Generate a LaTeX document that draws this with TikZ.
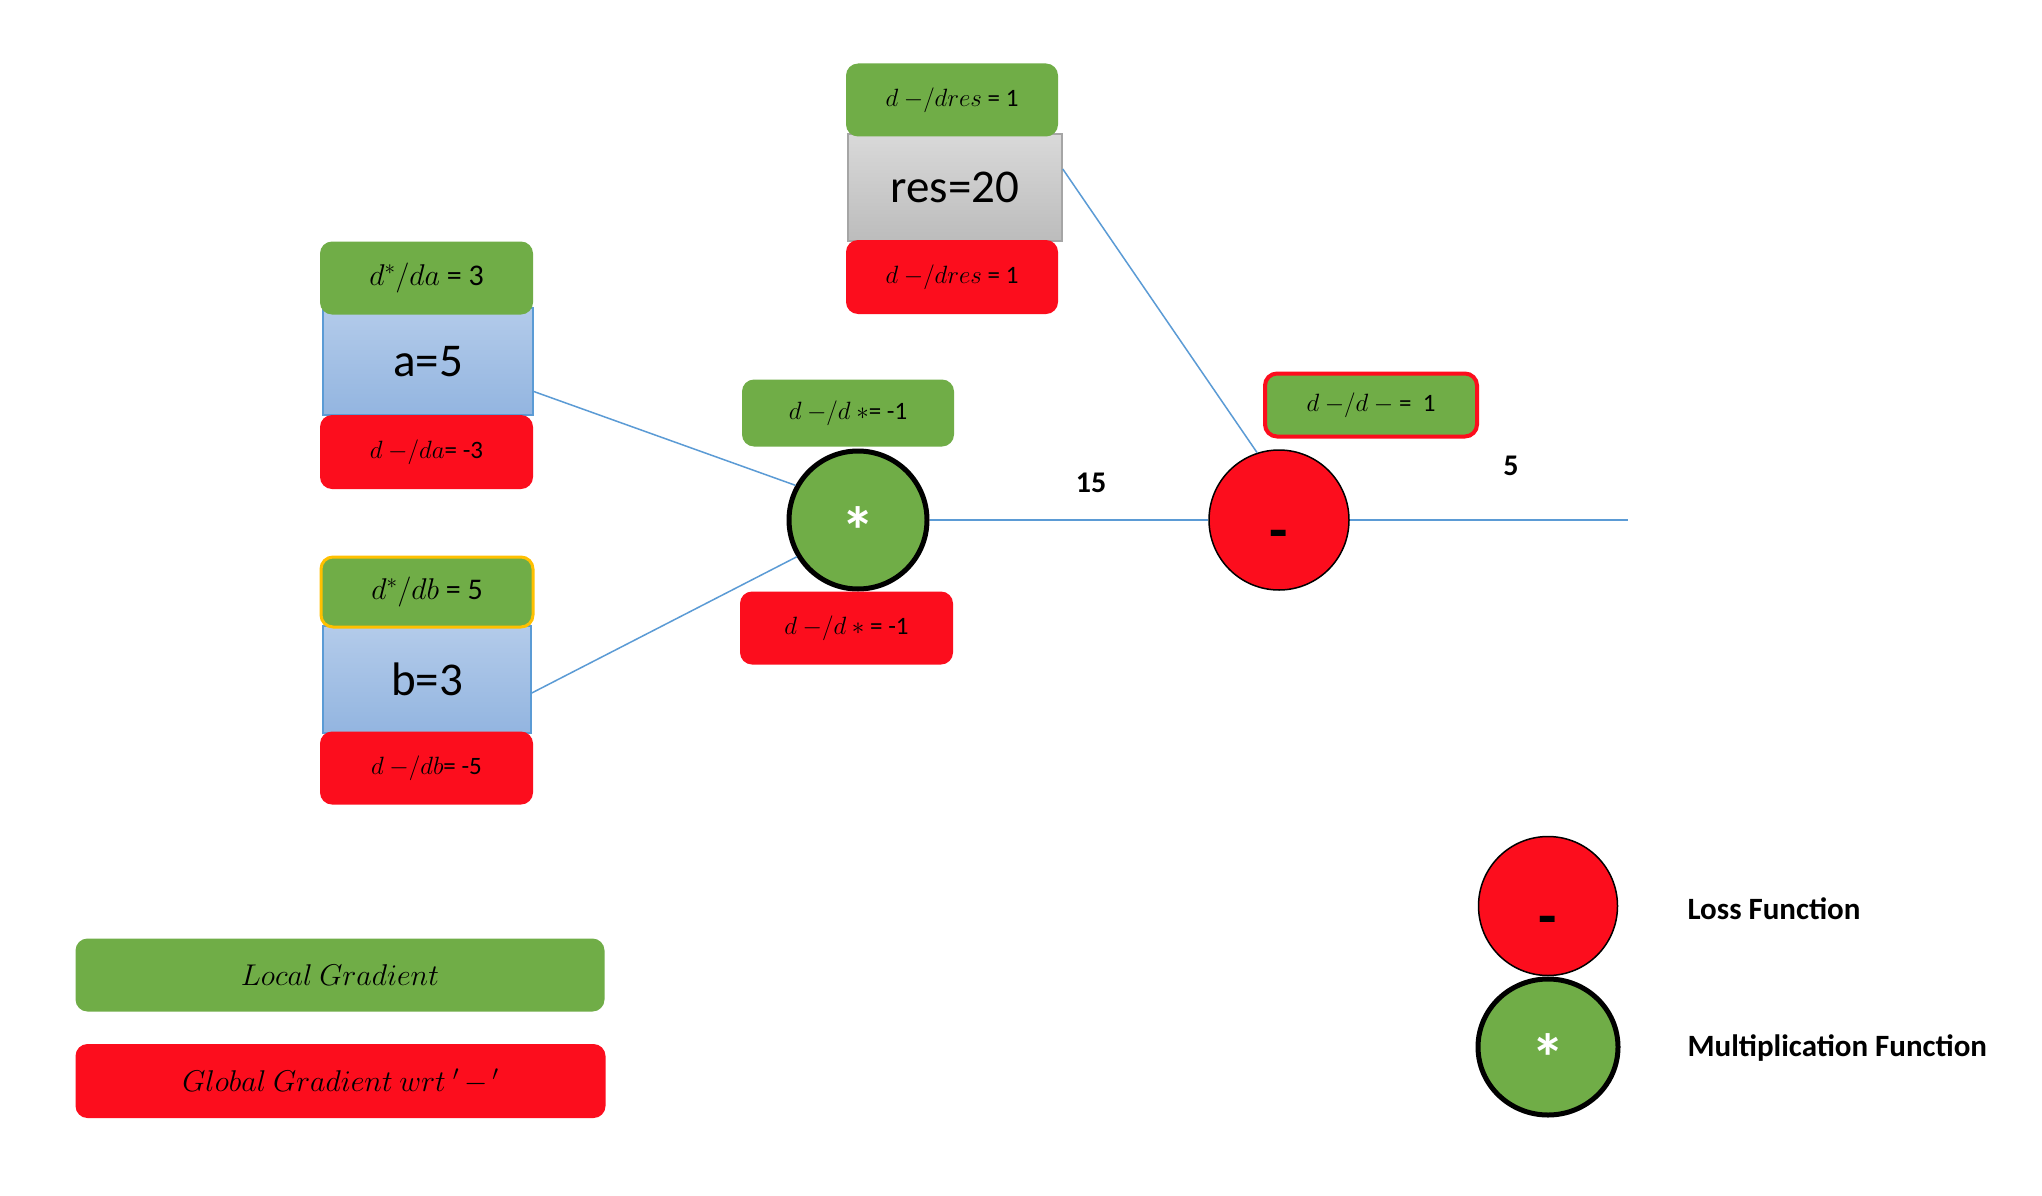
\RequirePackage{fix-cm}
\documentclass[tikz,border=0pt]{standalone}
\usepackage{fontspec}
\setmainfont{Carlito}
\usetikzlibrary{shapes.geometric,calc}
\definecolor{ogreen}{HTML}{70AD47}
\definecolor{ored}{HTML}{FC0D1D}
\definecolor{oblue}{HTML}{5B9BD5}
\definecolor{oorange}{HTML}{FFC000}
\definecolor{bluetop}{HTML}{B3CBEA}
\definecolor{bluebot}{HTML}{93B5E0}
\definecolor{greytop}{HTML}{D9D9D9}
\definecolor{greybot}{HTML}{BCBCBC}
\definecolor{greyline}{HTML}{A5A5A5}
\newcommand{\starsym}{\raisebox{-34pt}[0pt][0pt]{*}}
\newcommand{\dashsym}{\raisebox{-30pt}[0pt][0pt]{-}}
\begin{document}
\begin{tikzpicture}[x=1pt,y=-1pt,
  gbox/.style={fill=ogreen, rounded corners=12pt, minimum width=212pt, minimum height=73pt, inner sep=0pt, font=\fontsize{25}{30}\selectfont},
  rbox/.style={gbox, fill=ored},
  valbox/.style={draw=oblue, line width=1.5pt, top color=bluetop, bottom color=bluebot, minimum width=210pt, minimum height=107pt, inner sep=0pt, font=\fontsize{47}{54}\selectfont},
  conn/.style={draw=oblue, line width=1.5pt},
  multc/.style={circle, draw=black, line width=5pt, fill=ogreen, minimum size=138pt, inner sep=0pt, text=white, font=\bfseries\fontsize{67}{70}\selectfont},
  lossc/.style={circle, draw=black, line width=1.5pt, fill=ored, minimum size=140pt, inner sep=0pt, font=\bfseries\fontsize{60}{60}\selectfont},
  numlab/.style={font=\bfseries\fontsize{30}{34}\selectfont},
  legtext/.style={anchor=west, font=\bfseries\fontsize{31}{36}\selectfont},
]
\useasboundingbox (0,0) rectangle (2042,1196);
\fill[white] (0,0) rectangle (2042,1196);

% res node
\node[valbox, draw=greyline, top color=greytop, bottom color=greybot, minimum width=214pt] (res) at (955,187.5) {res=20};
\node[gbox] (resl) at (952,100) {$d\:{-}/dres$ = 1};
\node[rbox, minimum height=74pt] (resg) at (952,277) {$d\:{-}/dres$ = 1};

% a node
\node[valbox] (a) at (428,361.5) {a=5};
\node[gbox, minimum width=213pt, font=\fontsize{30}{34}\selectfont] (al) at (426.5,278) {$d^{*}/da$ = 3};
\node[rbox, minimum width=213pt, minimum height=74pt] (ag) at (426.5,452) {$d\:{-}/da$= -3};

% b node
\node[valbox, minimum width=208pt] (b) at (427,679.5) {b=3};
\node[gbox, draw=oorange, line width=3pt, minimum height=70pt, font=\fontsize{30}{34}\selectfont] (bl) at (427,592) {$d^{*}/db$ = 5};
\node[rbox, minimum width=213pt] (bg) at (426.5,768) {$d\:{-}/db$= -5};

% multiplication node
\node[multc] (mult) at (858,520) {\starsym};
\node[gbox, minimum height=67pt] (multl) at (848,413) {$d\:{-}/d\ {\ast}$= -1};
\node[rbox, minimum width=213pt] (multg) at (846.5,628) {$d\:{-}/d\ {\ast}$ = -1};

% loss node
\node[lossc] (loss) at (1279,520) {\dashsym};
\node[gbox, draw=ored, line width=4pt, minimum height=63pt] (lossl) at (1371,405) {$d\:{-}/d\:{-}$ = \ 1};
\coordinate (out) at (1628,520);

% connectors
\draw[conn] ([yshift=-30pt]a.east) -- (mult.151);
\draw[conn] ([yshift=-13.5pt]b.east) -- (mult.211);
\draw[conn] (mult.east) -- (loss.west);
\draw[conn] ([yshift=18.5pt]res.east) -- (loss.108);
\draw[conn] (loss.east) -- (out);

\node[numlab] (n15) at (1091,483) {15};
\node[numlab] (n5) at (1511,466) {5};

% legend
\node[gbox, minimum width=529pt, minimum height=73pt, font=\fontsize{30}{36}\selectfont] (legl) at (340,975) {$Local\ Gradient$};
\node[rbox, minimum width=530pt, minimum height=74pt, font=\fontsize{30}{36}\selectfont] (legg) at (340.5,1081) {$Global\ Gradient\ wrt\ {}'\,{-}\,{}'$};

\node[ellipse, draw=black, line width=1.5pt, fill=ored, minimum width=139pt, minimum height=139pt, inner sep=0pt, font=\bfseries\fontsize{60}{60}\selectfont] (legloss) at (1548,906) {\dashsym};
\node[ellipse, draw=black, line width=5pt, fill=ogreen, minimum width=140pt, minimum height=136pt, inner sep=0pt, text=white, font=\bfseries\fontsize{67}{70}\selectfont] (legmult) at (1548,1047) {\starsym};
\node[legtext] (leglosst) at (1684,909) {Loss Function};
\node[legtext] (legmultt) at (1684,1048) {Multiplication Function};
\end{tikzpicture}
\end{document}
